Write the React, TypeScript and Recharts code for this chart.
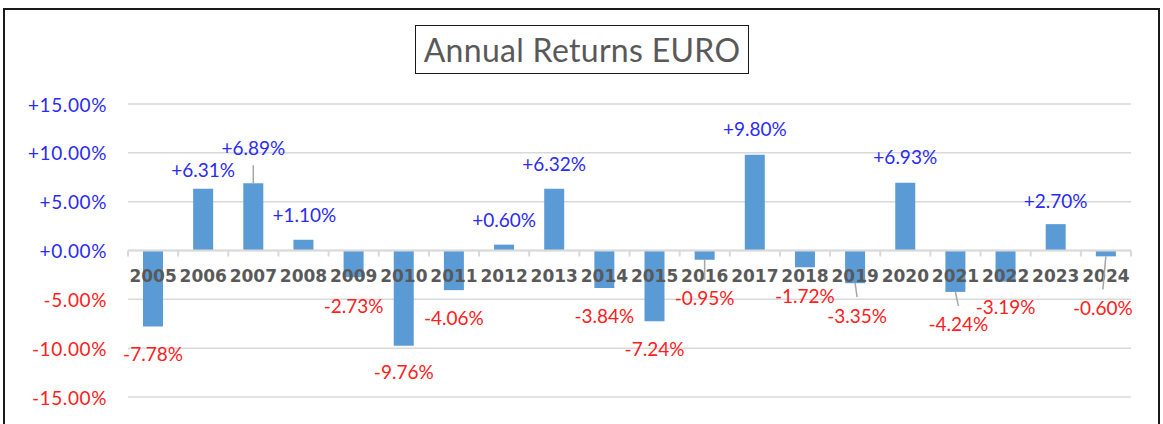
import React from "react";
import {
  BarChart,
  Bar,
  XAxis,
  YAxis,
  CartesianGrid,
  ReferenceLine,
  LabelList,
} from "recharts";

const YEARS = [
  "2005", "2006", "2007", "2008", "2009", "2010", "2011", "2012", "2013", "2014",
  "2015", "2016", "2017", "2018", "2019", "2020", "2021", "2022", "2023", "2024",
];

const RETURNS = [
  -7.78, 6.31, 6.89, 1.1, -2.73, -9.76, -4.06, 0.6, 6.32, -3.84,
  -7.24, -0.95, 9.8, -1.72, -3.35, 6.93, -4.24, -3.19, 2.7, -0.6,
];

const Y_TICKS = [-15, -10, -5, 0, 5, 10, 15];

// manual label nudges (the labels were dragged around in the original)
const NUDGE_X = [0, 0, 0, 1, 0, 0, 0, 0, 0, 0, 0, 0, 0, 0, 2, 0, 3, 0, 0, -3];
const NUDGE_Y = [1, 7, -10, 1, 2, 0, 1, 1, 1, 1, 1, 12, 0, 2, 6, 0, 6, -1, 2, 25];

const BLUE = "#2b2bf5";
const RED = "#ff2020";
const GRID = "#d9d9d9";
const TEXT_GRAY = "#595959";
const FONT = "Lato, 'Open Sans', sans-serif";

const data = YEARS.map((year, i) => ({ year, value: RETURNS[i] }));

const fmt = (v: number) => (v >= 0 ? `+${v.toFixed(2)}%` : `${v.toFixed(2)}%`);

const YTick = (props: any) => {
  const { x, y, payload } = props;
  const v = Number(payload.value);
  return (
    <text
      x={x}
      y={y}
      textAnchor="end"
      dominantBaseline="central"
      fill={v >= 0 ? BLUE : RED}
      fontSize={19}
      fontFamily={FONT}
      letterSpacing={0.6}
    >
      {fmt(v)}
    </text>
  );
};

// category axis drawn along the zero line
const ZeroAxis = (props: any) => {
  const vb = props.viewBox || {};
  const { x, y, width } = vb;
  if (x == null) return null;
  const step = width / YEARS.length;
  return (
    <g>
      {Array.from({ length: YEARS.length + 1 }, (_, i) => (
        <line
          key={`t-${i}`}
          x1={x + i * step}
          x2={x + i * step}
          y1={y}
          y2={y + 6}
          stroke={GRID}
          strokeWidth={2}
        />
      ))}
      {YEARS.map((yr, i) => (
        <text
          key={yr}
          x={x + (i + 0.5) * step}
          y={y + 25}
          textAnchor="middle"
          dominantBaseline="central"
          fill={TEXT_GRAY}
          fontSize={17}
          fontWeight="bold"
          fontFamily="'DejaVu Sans', sans-serif"
        >
          {yr}
        </text>
      ))}
    </g>
  );
};

const ValueLabel = (props: any) => {
  const { x, y, width, height, value, index } = props;
  const v = Number(value);
  const cx = x + width / 2;
  const top = Math.min(y, y + height);
  const bottom = Math.max(y, y + height);
  const pos = v >= 0;
  const end = pos ? top : bottom;
  const lx = cx + NUDGE_X[index];
  const ly = pos ? end - 26 + NUDGE_Y[index] : end + 26 + NUDGE_Y[index];
  const far = Math.abs(ly - end) > 30;
  return (
    <g>
      {far && (
        <line
          x1={cx}
          y1={end}
          x2={lx}
          y2={pos ? ly + 18 : ly - 18}
          stroke="#a6a6a6"
          strokeWidth={1.5}
        />
      )}
      <text
        x={lx}
        y={ly}
        textAnchor="middle"
        dominantBaseline="central"
        fill={pos ? BLUE : RED}
        fontSize={19}
        fontFamily={FONT}
      >
        {fmt(v)}
      </text>
    </g>
  );
};

export default function App() {
  return (
    <div
      style={{
        position: "absolute",
        left: 0,
        top: 0,
        width: 1163,
        height: 424,
        overflow: "hidden",
        background: "#fff",
      }}
    >
      <div
        style={{
          position: "absolute",
          left: 3,
          top: 8,
          width: 1153,
          height: 440,
          border: "2px solid #1a1a1a",
        }}
      />
      <div
        style={{
          position: "absolute",
          left: 415,
          top: 25,
          width: 332,
          height: 47,
          border: "1.5px solid #1a1a1a",
          color: TEXT_GRAY,
          fontFamily: FONT,
          fontSize: 32,
          lineHeight: "47px",
          textAlign: "center",
          letterSpacing: 0.3,
        }}
      >
        Annual Returns EURO
      </div>
      <div style={{ position: "absolute", left: 0, top: 0 }}>
        <BarChart
          width={1163}
          height={424}
          data={data}
          margin={{ top: 104, right: 32, bottom: 27, left: 0 }}
          barCategoryGap="20%"
        >
          <CartesianGrid horizontal vertical={false} stroke={GRID} strokeWidth={1.5} />
          <XAxis dataKey="year" hide />
          <YAxis
            type="number"
            domain={[-15, 15]}
            ticks={Y_TICKS}
            width={128}
            axisLine={false}
            tickLine={false}
            tickSize={0}
            tickMargin={21}
            tick={<YTick />}
            interval={0}
          />
          <Bar dataKey="value" fill="#5b9bd5" barSize={20} isAnimationActive={false}>
            <LabelList dataKey="value" content={<ValueLabel />} />
          </Bar>
          <ReferenceLine y={0} stroke={GRID} strokeWidth={2} label={<ZeroAxis />} />
        </BarChart>
      </div>
    </div>
  );
}
